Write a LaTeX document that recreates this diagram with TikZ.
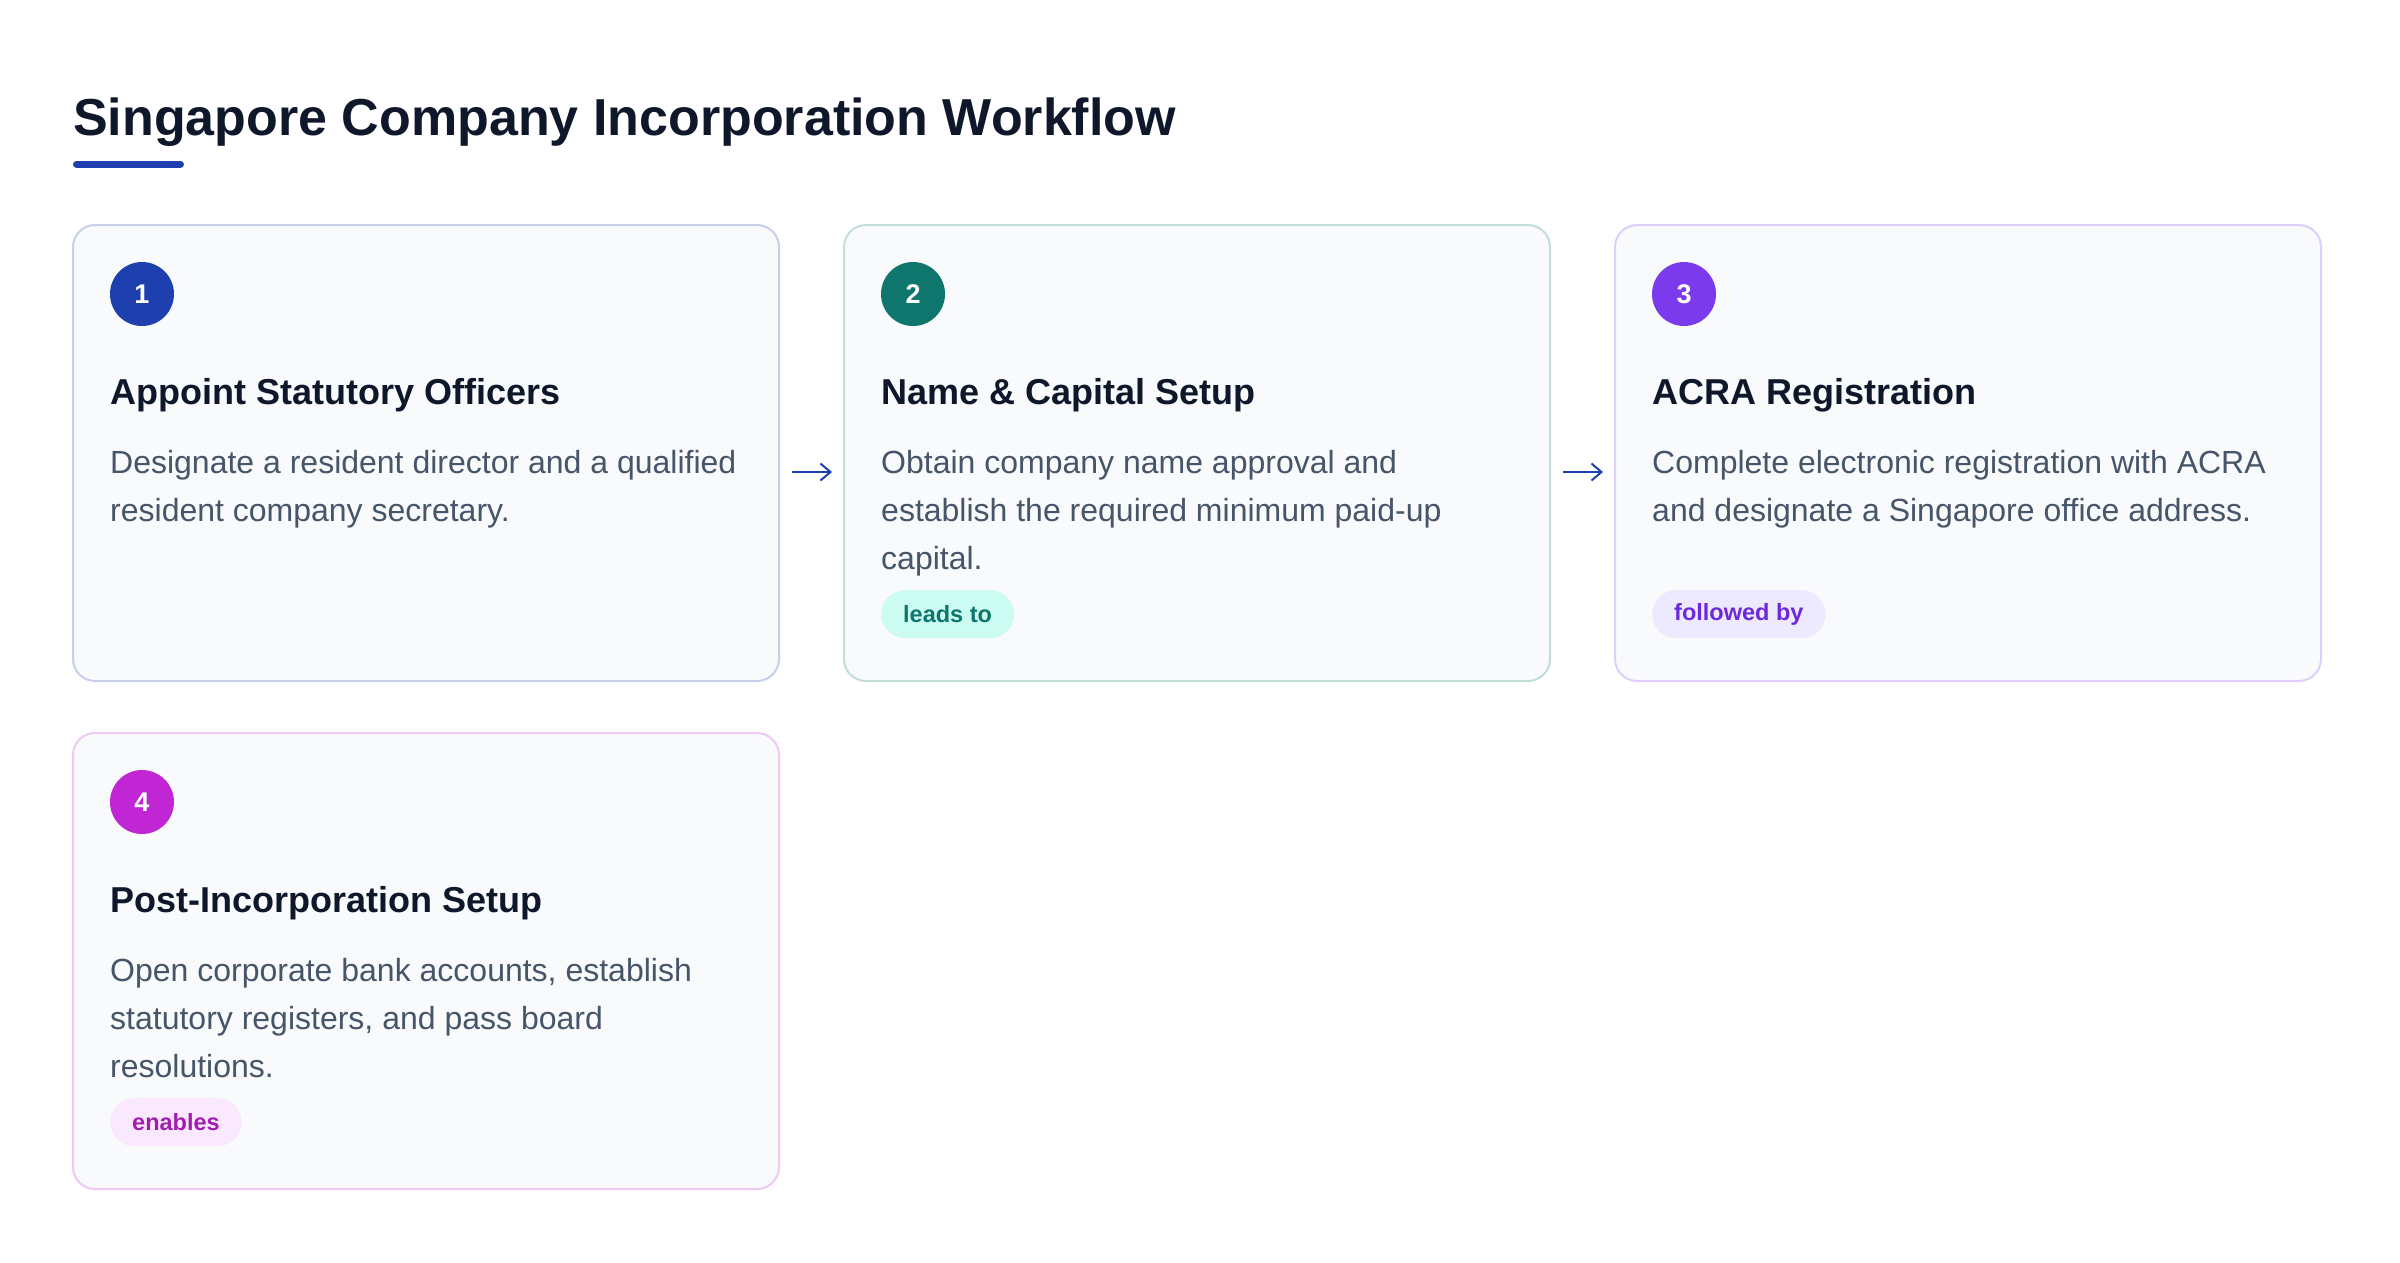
\documentclass[tikz,border=0pt]{standalone}
\usepackage{fontspec}
\setmainfont{Liberation Sans}
\usetikzlibrary{positioning,arrows.meta}

\definecolor{ink}{HTML}{0F172A}
\definecolor{slate}{HTML}{475569}
\definecolor{cardbg}{HTML}{F8FAFC}
\definecolor{blueA}{HTML}{1E40AF}
\definecolor{blueB}{HTML}{C7CFEB}
\definecolor{tealA}{HTML}{0F766E}
\definecolor{tealB}{HTML}{C3DDDB}
\definecolor{tealC}{HTML}{CCFBF1}
\definecolor{violetA}{HTML}{7C3AED}
\definecolor{violetB}{HTML}{DECEFB}
\definecolor{violetC}{HTML}{EDE9FE}
\definecolor{violetD}{HTML}{6D28D9}
\definecolor{pinkA}{HTML}{C026D3}
\definecolor{pinkB}{HTML}{EFC9F4}
\definecolor{pinkC}{HTML}{FAE8FF}
\definecolor{pinkD}{HTML}{A21CAF}

\begin{document}
\begin{tikzpicture}[x=1pt, y=-1pt, node distance=65pt, >={Straight Barb[length=10pt,width=17pt]}]
    % Define block styles
    \tikzstyle{card} = [draw, fill=cardbg, rounded corners=22pt, line width=2pt, outer sep=0pt, minimum width=706pt, minimum height=456pt, inner sep=0pt]
    \tikzstyle{stepnum} = [circle, minimum size=64pt, inner sep=0pt, text=white, font=\fontsize{27}{27}\selectfont\bfseries]
    \tikzstyle{steptitle} = [anchor=base west, inner sep=0pt, text=ink, font=\fontsize{36}{40}\selectfont\bfseries]
    \tikzstyle{steptext} = [anchor=base west, inner sep=0pt, align=left, text=slate, font=\fontsize{32}{48}\selectfont]
    \tikzstyle{tag} = [anchor=north west, rounded corners=24pt, minimum height=48pt, inner xsep=22pt, inner ysep=0pt, font=\fontsize{23.5}{23.5}\selectfont\bfseries]
    \tikzstyle{flow} = [->, draw=blueA, line width=2pt, shorten <=13pt, shorten >=12pt]

    \useasboundingbox (0,0) rectangle (2400,1262);

    % Title
    \node [anchor=base west, inner sep=0pt, text=ink, font=\fontsize{52}{60}\selectfont\bfseries] (title) at (73,135) {Singapore Company Incorporation Workflow};
    \draw [blueA, line width=7pt, line cap=round] ([xshift=3.5pt,yshift=-29pt]title.base west) -- ++(104,0);

    % Cards
    \node [card, draw=blueB, anchor=north west] (card1) at (73,225) {};
    \node [card, draw=tealB, right=of card1] (card2) {};
    \node [card, draw=violetB, right=of card2] (card3) {};
    \node [card, draw=pinkB, below=52pt of card1] (card4) {};

    % Step 1 (text base = last line)
    \node [stepnum, fill=blueA] (num1) at ([xshift=69pt,yshift=-69pt]card1.north west) {1};
    \node [steptitle] (head1) at ([xshift=37pt,yshift=-179pt]card1.north west) {Appoint Statutory Officers};
    \node [steptext] (text1) at ([xshift=37pt,yshift=-296pt]card1.north west) {Designate a resident director and a qualified\\resident company secretary.};

    % Step 2
    \node [stepnum, fill=tealA] (num2) at ([xshift=69pt,yshift=-69pt]card2.north west) {2};
    \node [steptitle] (head2) at ([xshift=37pt,yshift=-179pt]card2.north west) {Name \& Capital Setup};
    \node [steptext] (text2) at ([xshift=37pt,yshift=-344pt]card2.north west) {Obtain company name approval and\\establish the required minimum paid-up\\capital.};
    \node [tag, fill=tealC, text=tealA] (tag2) at ([xshift=37pt,yshift=-365pt]card2.north west) {leads to};

    % Step 3
    \node [stepnum, fill=violetA] (num3) at ([xshift=69pt,yshift=-69pt]card3.north west) {3};
    \node [steptitle] (head3) at ([xshift=37pt,yshift=-179pt]card3.north west) {ACRA Registration};
    \node [steptext] (text3) at ([xshift=37pt,yshift=-296pt]card3.north west) {Complete electronic registration with ACRA\\and designate a Singapore office address.};
    \node [tag, fill=violetC, text=violetD] (tag3) at ([xshift=37pt,yshift=-365pt]card3.north west) {followed by};

    % Step 4
    \node [stepnum, fill=pinkA] (num4) at ([xshift=69pt,yshift=-69pt]card4.north west) {4};
    \node [steptitle] (head4) at ([xshift=37pt,yshift=-179pt]card4.north west) {Post-Incorporation Setup};
    \node [steptext] (text4) at ([xshift=37pt,yshift=-344pt]card4.north west) {Open corporate bank accounts, establish\\statutory registers, and pass board\\resolutions.};
    \node [tag, fill=pinkC, text=pinkD] (tag4) at ([xshift=37pt,yshift=-365pt]card4.north west) {enables};

    % Connections
    \draw [flow] ([yshift=-19pt]card1.east) -- ([yshift=-19pt]card2.west);
    \draw [flow] ([yshift=-19pt]card2.east) -- ([yshift=-19pt]card3.west);
\end{tikzpicture}
\end{document}
